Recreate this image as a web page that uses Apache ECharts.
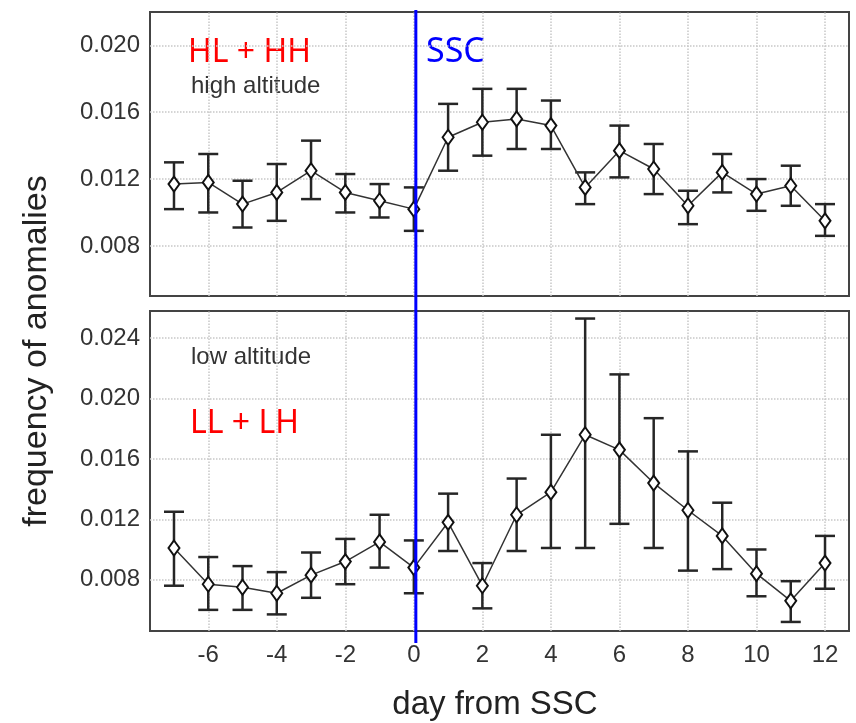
<!DOCTYPE html>
<html>
<head>
<meta charset="utf-8">
<script src="https://cdn.jsdelivr.net/npm/echarts@6/dist/echarts.min.js"></script>
<style>
  html, body { margin: 0; padding: 0; background: #fff; }
  #main { width: 856px; height: 723px; }
</style>
</head>
<body>
<div id="main"></div>
<script>
// days relative to SSC
const days = [-7, -6, -5, -4, -3, -2, -1, 0, 1, 2, 3, 4, 5, 6, 7, 8, 9, 10, 11, 12];

// high altitude (HL + HH)
const highMean = [0.0117, 0.0118, 0.0105, 0.0112, 0.0125, 0.0112, 0.0107, 0.0102, 0.0145, 0.0154, 0.0156, 0.0152, 0.0115, 0.0137, 0.0126, 0.0104, 0.0124, 0.0111, 0.0116, 0.0095];
const highLow  = [0.0102, 0.0100, 0.0091, 0.0095, 0.0108, 0.0100, 0.0097, 0.0089, 0.0125, 0.0134, 0.0138, 0.0138, 0.0105, 0.0121, 0.0111, 0.0093, 0.0112, 0.0101, 0.0104, 0.0086];
const highHigh = [0.0130, 0.0135, 0.0119, 0.0129, 0.0143, 0.0123, 0.0117, 0.0115, 0.0165, 0.0174, 0.0174, 0.0167, 0.0124, 0.0152, 0.0141, 0.0113, 0.0135, 0.0120, 0.0128, 0.0105];

// low altitude (LL + LH)
const lowMean = [0.0101, 0.0077, 0.0075, 0.0071, 0.0083, 0.0092, 0.0105, 0.0088, 0.0118, 0.0076, 0.0123, 0.0138, 0.0176, 0.0166, 0.0144, 0.0126, 0.0109, 0.0084, 0.0066, 0.0091];
const lowLow  = [0.0076, 0.0060, 0.0060, 0.0057, 0.0068, 0.0077, 0.0088, 0.0071, 0.0099, 0.0061, 0.0099, 0.0101, 0.0101, 0.0117, 0.0101, 0.0086, 0.0087, 0.0069, 0.0052, 0.0074];
const lowHigh = [0.0125, 0.0095, 0.0089, 0.0085, 0.0098, 0.0107, 0.0123, 0.0106, 0.0137, 0.0091, 0.0147, 0.0176, 0.0253, 0.0216, 0.0187, 0.0165, 0.0131, 0.0100, 0.0079, 0.0109];

// tick labels
const xTicks = [-6, -4, -2, 0, 2, 4, 6, 8, 10, 12];
const highTicks = [0.008, 0.012, 0.016, 0.020];
const lowTicks = [0.008, 0.012, 0.016, 0.020, 0.024];

const FONT = 'Liberation Sans';
const dom = document.getElementById('main');
const myChart = echarts.init(dom);

function errorBars(lo, hi) {
    return days.map((d, i) => [d, lo[i], hi[i]]);
}

function renderErrorBar(params, api) {
    const x = api.value(0);
    const top = api.coord([x, api.value(2)]);
    const bot = api.coord([x, api.value(1)]);
    const hw = 10;
    const style = { stroke: '#262626', lineWidth: 2.5 };
    return {
        type: 'group',
        children: [
            { type: 'line', shape: { x1: top[0], y1: top[1], x2: bot[0], y2: bot[1] }, style: style },
            { type: 'line', shape: { x1: top[0] - hw, y1: top[1], x2: top[0] + hw, y2: top[1] }, style: style },
            { type: 'line', shape: { x1: bot[0] - hw, y1: bot[1], x2: bot[0] + hw, y2: bot[1] }, style: style }
        ]
    };
}

function xAxisFor(gridIndex, showLabels) {
    return {
        type: 'value',
        gridIndex: gridIndex,
        min: -7.7,
        max: 12.7,
        axisLine: { show: false },
        axisTick: { show: false, customValues: xTicks },
        axisLabel: {
            show: showLabels,
            customValues: xTicks,
            color: '#333',
            fontFamily: FONT,
            fontSize: 24,
            margin: 12
        },
        splitLine: { show: false }
    };
}

function yAxisFor(gridIndex, min, max, ticks) {
    return {
        type: 'value',
        gridIndex: gridIndex,
        min: min,
        max: max,
        axisLine: { show: false },
        axisTick: { show: false, customValues: ticks },
        axisLabel: {
            customValues: ticks,
            color: '#333',
            fontFamily: FONT,
            fontSize: 24,
            margin: 10,
            formatter: v => v.toFixed(3)
        },
        splitLine: { show: false }
    };
}

// dotted grid drawn at the labelled tick values
function gridSeries(idx, yTicks) {
    return {
        type: 'line',
        xAxisIndex: idx,
        yAxisIndex: idx,
        data: [],
        z: 1,
        silent: true,
        markLine: {
            silent: true,
            z: 1,
            symbol: 'none',
            precision: 6,
            label: { show: false },
            animation: false,
            lineStyle: { color: '#c8c8c8', type: 'dotted', width: 1.5 },
            data: xTicks.map(v => ({ xAxis: v })).concat(yTicks.map(v => ({ yAxis: v })))
        }
    };
}

function meanSeries(idx, values) {
    return {
        type: 'line',
        xAxisIndex: idx,
        yAxisIndex: idx,
        data: days.map((d, i) => [d, values[i]]),
        symbol: 'diamond',
        symbolSize: [11, 15],
        showSymbol: true,
        lineStyle: { color: '#333', width: 1.5 },
        itemStyle: { color: '#fff', borderColor: '#111', borderWidth: 2 },
        z: 5,
        silent: true
    };
}

const option = {
    animation: false,
    grid: [
        { left: 150, right: 7, top: 12, height: 284, show: true, borderColor: '#444', borderWidth: 2, backgroundColor: 'transparent' },
        { left: 150, right: 7, top: 311, height: 320, show: true, borderColor: '#444', borderWidth: 2, backgroundColor: 'transparent' }
    ],
    xAxis: [xAxisFor(0, false), xAxisFor(1, true)],
    yAxis: [
        yAxisFor(0, 0.005, 0.022, highTicks),
        yAxisFor(1, 0.0046, 0.0258, lowTicks)
    ],
    series: [
        gridSeries(0, highTicks),
        {
            type: 'custom',
            xAxisIndex: 0,
            yAxisIndex: 0,
            renderItem: renderErrorBar,
            data: errorBars(highLow, highHigh),
            encode: { x: 0, y: [1, 2] },
            z: 3
        },
        meanSeries(0, highMean),
        gridSeries(1, lowTicks),
        {
            type: 'custom',
            xAxisIndex: 1,
            yAxisIndex: 1,
            renderItem: renderErrorBar,
            data: errorBars(lowLow, lowHigh),
            encode: { x: 0, y: [1, 2] },
            z: 3
        },
        meanSeries(1, lowMean)
    ],
    graphic: [
        {
            id: 'ytitle',
            type: 'text',
            x: 37, y: 351,
            rotation: Math.PI / 2,
            style: { text: 'frequency of anomalies', font: '34px "Liberation Sans"', fill: '#222', align: 'center', verticalAlign: 'middle' }
        },
        {
            id: 'xtitle',
            type: 'text',
            x: 495, y: 705,
            style: { text: 'day from SSC', font: '33px "Liberation Sans"', fill: '#222', align: 'center', verticalAlign: 'middle' }
        },
        {
            id: 'hl',
            type: 'text',
            x: 188, y: 53,
            style: { text: 'HL + HH', font: '32px "Noto Sans"', fill: '#ff0000', verticalAlign: 'middle' }
        },
        {
            id: 'high',
            type: 'text',
            x: 191, y: 86,
            style: { text: 'high altitude', font: '24px "Liberation Sans"', fill: '#333', verticalAlign: 'middle' }
        },
        {
            id: 'low',
            type: 'text',
            x: 191, y: 357,
            style: { text: 'low altitude', font: '24px "Liberation Sans"', fill: '#333', verticalAlign: 'middle' }
        },
        {
            id: 'll',
            type: 'text',
            x: 190, y: 424,
            style: { text: 'LL + LH', font: '32px "Noto Sans"', fill: '#ff0000', verticalAlign: 'middle' }
        },
        {
            id: 'ssc',
            type: 'text',
            x: 426, y: 52,
            style: { text: 'SSC', font: '34px "Noto Sans"', fill: '#0000ff', verticalAlign: 'middle' }
        }
    ]
};
myChart.setOption(option);

// SSC marker: vertical line at day 0 running through both panels
const pTop = myChart.convertToPixel({ gridIndex: 0 }, [0, 0.022]);
const pBot = myChart.convertToPixel({ gridIndex: 1 }, [0, 0.0046]);
myChart.setOption({
    graphic: [
        {
            id: 'sscLine',
            type: 'line',
            shape: { x1: pTop[0] + 2, y1: pTop[1] - 2, x2: pBot[0] + 2, y2: pBot[1] + 12 },
            style: { stroke: '#0000ff', lineWidth: 3 },
            z: 10
        }
    ]
});
</script>
</body>
</html>
